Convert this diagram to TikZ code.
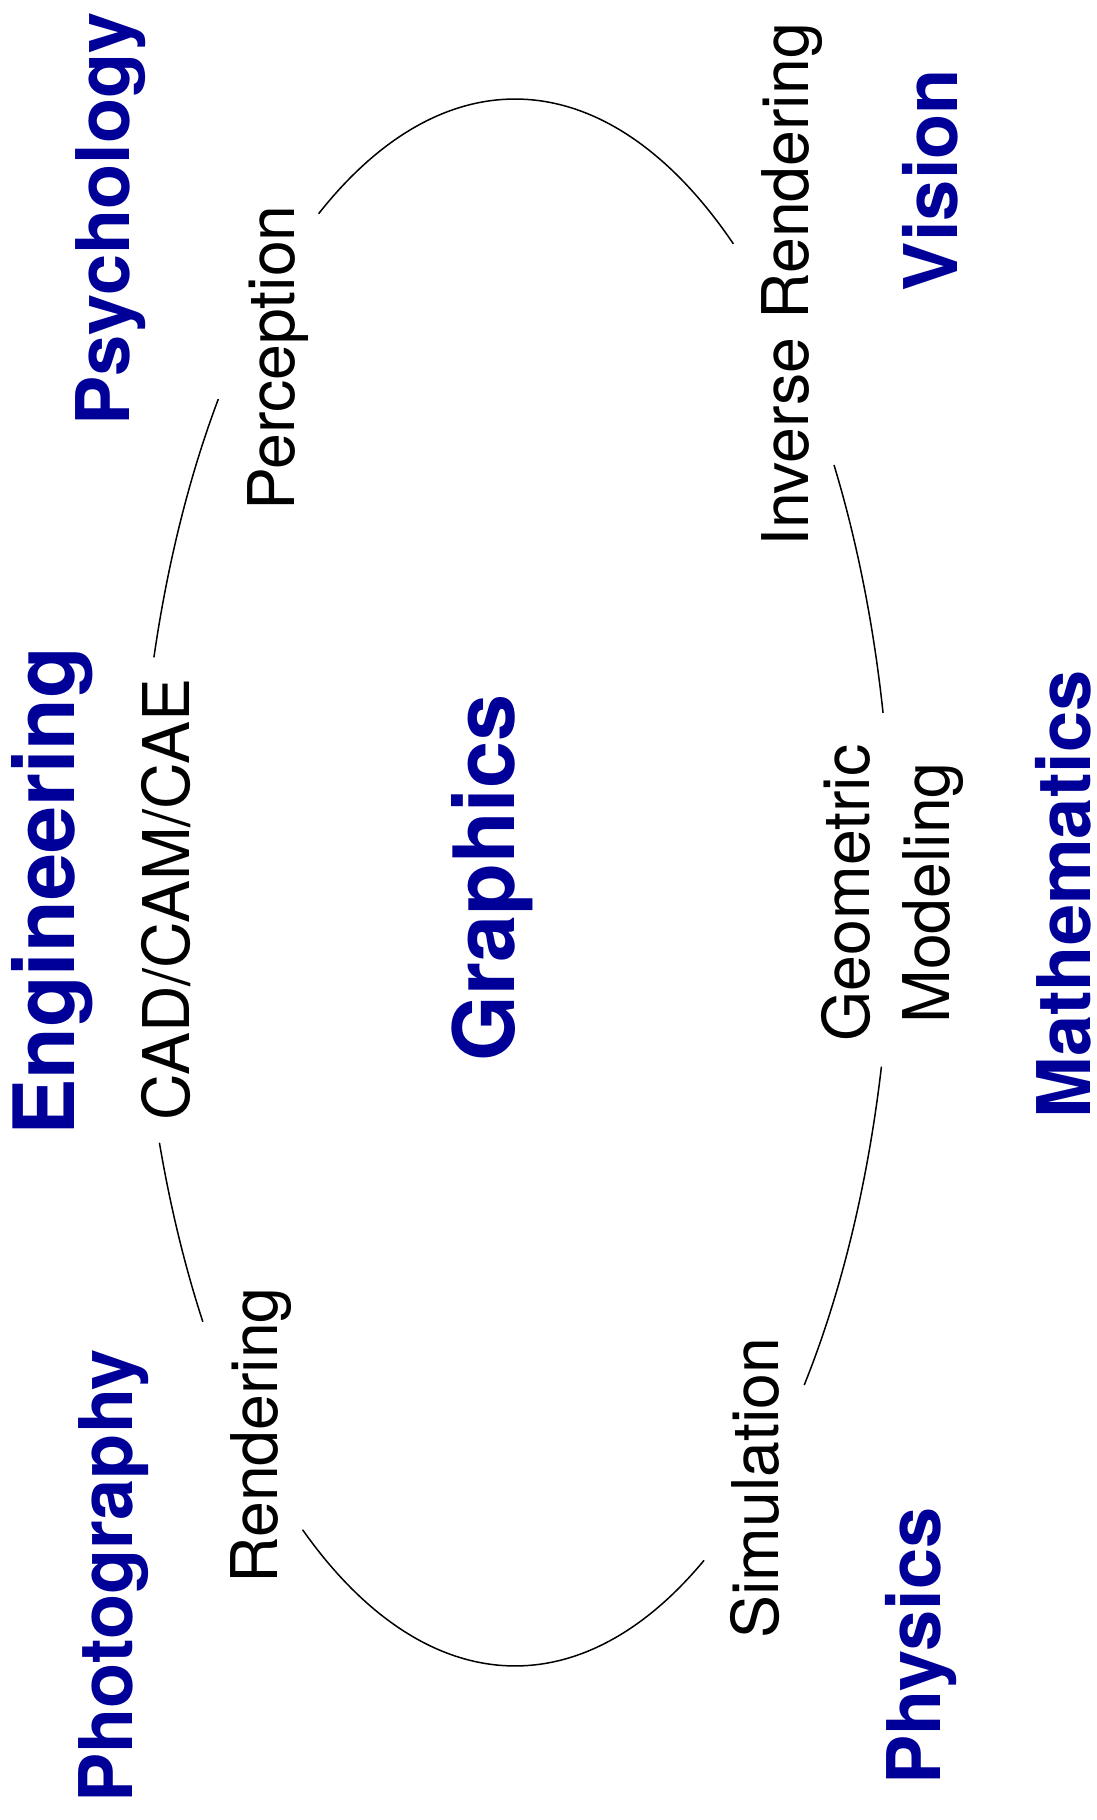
\documentclass[tikz,border=0pt]{standalone}
\usepackage{fontspec}
\setmainfont{TeX Gyre Heros}
\definecolor{fieldblue}{RGB}{0,0,153}

\begin{document}
\begin{tikzpicture}[x=0.5pt, y=0.5pt,
    field/.style={text=fieldblue, font=\fontsize{37}{44}\selectfont\bfseries, rotate=90, anchor=base, inner sep=0pt},
    bigfield/.style={field, font=\fontsize{42.3}{50}\selectfont\bfseries},
    topic/.style={font=\fontsize{32.2}{40}\selectfont, rotate=90, anchor=base, inner sep=0pt, align=center},
    ring/.style={line width=0.75pt, x radius=188.5pt, y radius=391.75pt}
]
\useasboundingbox (0,0) rectangle (1097,1820);
\coordinate (ctr) at (515,937.5);
% fields round the ring
\node[field] (psych) at (129,1601) {Psychology};
\node[field] (vision) at (957,1640) {Vision};
\node[bigfield] (engin) at (74,928.5) {Engineering};
\node[field] (maths) at (1090,925.5) {Mathematics};
\node[field] (photo) at (132,244) {Photography};
\node[field] (phys) at (940.6,174) {Physics};
\node[bigfield] (graph) at (514,942) {Graphics};
% topics on the ring
\node[topic] (percep) at (294,1462) {Perception};
\node[topic] (invrend) at (808,1535) {Inverse Rendering};
\node[topic] (cad) at (189,920.5) {CAD/CAM/CAE};
\node[topic, anchor=center] (geomod) at (892,927) {Geometric\\Modeling};
\node[topic] (rend) at (277,384.5) {Rendering};
\node[topic] (simul) at (778.5,332) {Simulation};
% ring pieces between topics
\draw[ring] (ctr) ++(54.6:188.5pt and 391.75pt) arc[start angle=54.6, end angle=121.4];
\draw[ring] (ctr) ++(141.9:188.5pt and 391.75pt) arc[start angle=141.9, end angle=163.3];
\draw[ring] (ctr) ++(199.4:188.5pt and 391.75pt) arc[start angle=199.4, end angle=214.1];
\draw[ring] (ctr) ++(235.7:188.5pt and 391.75pt) arc[start angle=235.7, end angle=300.1];
\draw[ring] (ctr) ++(-39.9:188.5pt and 391.75pt) arc[start angle=-39.9, end angle=-13.6];
\draw[ring] (ctr) ++(12.5:188.5pt and 391.75pt) arc[start angle=12.5, end angle=32.2];
\end{tikzpicture}
\end{document}
